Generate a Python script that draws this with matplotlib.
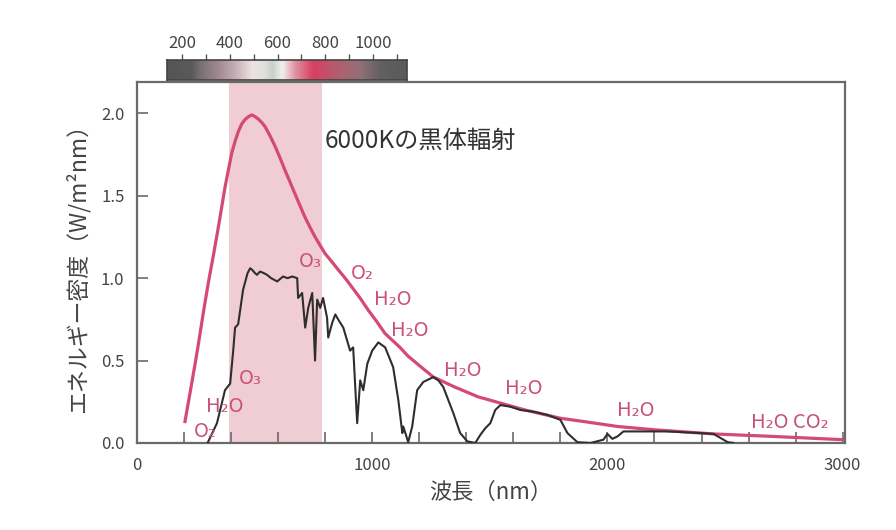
import numpy as np
import matplotlib
matplotlib.use('Agg')
import matplotlib.pyplot as plt
from matplotlib.colors import LinearSegmentedColormap
from matplotlib.ticker import MultipleLocator

plt.rcParams['font.family'] = ['Noto Sans CJK JP', 'DejaVu Sans']

# 6000K black body curve
bb_nm = [204, 225, 247, 261, 282, 303, 325, 346, 360, 374, 389, 403, 417, 431, 445, 459,
         474, 488, 502, 516, 530, 544, 565, 587, 608, 629, 650, 672, 693, 714, 735, 757,
         778, 799, 828, 856, 885, 913, 948, 983, 1020, 1054, 1118, 1150, 1200, 1260,
         1350, 1450, 1550, 1650, 1800, 1900, 2043, 2200, 2450, 2700, 3000]
bb_val = [0.13, 0.30, 0.48, 0.60, 0.79, 0.97, 1.14, 1.31, 1.43, 1.55, 1.66, 1.76, 1.83,
          1.89, 1.935, 1.962, 1.98, 1.99, 1.98, 1.965, 1.945, 1.92, 1.865, 1.80, 1.73,
          1.655, 1.585, 1.51, 1.44, 1.37, 1.31, 1.25, 1.20, 1.15, 1.10, 1.05, 1.00, 0.947,
          0.88, 0.806, 0.735, 0.665, 0.58, 0.53, 0.47, 0.40, 0.34, 0.28, 0.24, 0.20, 0.15,
          0.13, 0.10, 0.08, 0.055, 0.04, 0.02]

# solar spectrum at ground level
sun_nm = [300, 340, 374, 396, 409, 417, 430, 451, 470, 481, 490, 502, 510, 523, 540,
          553, 570, 596, 621, 640, 660, 681, 685, 702, 715, 728, 745, 757, 766, 779,
          791, 808, 813, 830, 843, 855, 877, 906, 919, 936, 949, 962, 979, 1000, 1026,
          1055, 1089, 1111, 1128, 1132, 1153, 1170, 1191, 1217, 1260, 1281, 1302, 1345,
          1374, 1404, 1438, 1460, 1481, 1502, 1523, 1545, 1587, 1630, 1685, 1745, 1800,
          1830, 1872, 1928, 1983, 2000, 2021, 2043, 2068, 2111, 2170, 2255, 2396, 2451,
          2511, 2536]
sun_val = [0.0, 0.12, 0.32, 0.36, 0.56, 0.70, 0.72, 0.93, 1.03, 1.06, 1.05, 1.03, 1.02,
           1.04, 1.03, 1.02, 1.00, 0.98, 1.01, 1.00, 1.01, 1.00, 0.88, 0.91, 0.70, 0.82,
           0.91, 0.50, 0.87, 0.82, 0.88, 0.76, 0.64, 0.73, 0.78, 0.75, 0.70, 0.56, 0.58,
           0.12, 0.38, 0.32, 0.48, 0.56, 0.61, 0.58, 0.46, 0.26, 0.06, 0.10, 0.005, 0.10,
           0.32, 0.37, 0.40, 0.38, 0.34, 0.18, 0.06, 0.01, 0.0, 0.05, 0.09, 0.12, 0.20,
           0.23, 0.22, 0.20, 0.19, 0.17, 0.14, 0.06, 0.005, 0.0, 0.02, 0.055, 0.025, 0.04,
           0.07, 0.07, 0.07, 0.07, 0.06, 0.055, 0.005, 0.0]

# absorption labels
absorb_labels = ['O₂', 'H₂O', 'O₃', 'O₃', 'O₂', 'H₂O', 'H₂O', 'H₂O', 'H₂O', 'H₂O', 'H₂O CO₂']
absorb_nm = [289, 374, 480, 735, 960, 1088, 1160, 1386, 1645, 2121, 2775]
absorb_val = [0.067, 0.22, 0.39, 1.10, 1.03, 0.87, 0.685, 0.44, 0.33, 0.20, 0.127]

visible_band = (390, 786)

# colour strip along the top (wavelength -> colour)
strip_nm = [137, 240, 280, 350, 425, 495, 540, 580, 620, 675, 750, 860, 950, 1030, 1142]
strip_colors = ['#555555', '#5a5a5a', '#7a7275', '#a08890', '#c8b0b8', '#ece4e4',
                '#e2e0de', '#c8d2c8', '#f2f0f0', '#e090a0', '#d84060', '#b06070',
                '#907078', '#626062', '#5a5a5a']

pink = '#d44a72'
label_pink = '#c9507a'
frame = '#6a6a6a'

fig = plt.figure(figsize=(8.96, 5.30), dpi=100)
ax = fig.add_axes([0.1529, 0.1642, 0.7902, 0.6811])

ax.axvspan(*visible_band, color='#f0ccd5', lw=0, zorder=0)
ax.plot(bb_nm, bb_val, color=pink, lw=2.3, zorder=2, solid_joinstyle='round')
ax.plot(sun_nm, sun_val, color='#2e2e2e', lw=1.5, zorder=3)

for lab, x, y in zip(absorb_labels, absorb_nm, absorb_val):
    ax.text(x, y, lab, color=label_pink, fontsize=14.5, ha='center', va='center', zorder=4)

ax.text(1205, 1.836, '6000Kの黒体輻射', color='#333333', fontsize=17.5,
        ha='center', va='center')

ax.set_xlim(0, 3010)
ax.set_ylim(0, 2.19)
ax.xaxis.set_major_locator(MultipleLocator(1000))
ax.xaxis.set_minor_locator(MultipleLocator(200))
ax.yaxis.set_major_locator(MultipleLocator(0.5))
ax.yaxis.set_major_formatter(plt.FormatStrFormatter('%.1f'))
ax.tick_params(axis='both', which='both', direction='in', length=8, width=1.2,
               color=frame, labelcolor='#444444', labelsize=12)
ax.tick_params(axis='x', pad=10)
ax.tick_params(axis='y', pad=9)
for s in ax.spines.values():
    s.set_color(frame)
    s.set_linewidth(1.6)

ax.set_xlabel('波長（nm）', fontsize=16, color='#444444', labelpad=5)
ax.set_ylabel('エネルギー密度（W/m²nm）', fontsize=16.5, color='#444444', labelpad=8)

# colour strip
cax = fig.add_axes([0.1864, 0.849, 0.2678, 0.0377])
cmap = LinearSegmentedColormap.from_list(
    'strip', [((n - strip_nm[0]) / (strip_nm[-1] - strip_nm[0]), c)
              for n, c in zip(strip_nm, strip_colors)])
cax.imshow(np.linspace(0, 1, 512).reshape(1, -1), cmap=cmap, aspect='auto',
           extent=[strip_nm[0], strip_nm[-1], 0, 1])
cax.set_xlim(strip_nm[0], strip_nm[-1])
cax.set_yticks([])
cax.xaxis.tick_top()
cax.set_xticks([200, 400, 600, 800, 1000])
cax.set_xticks(range(200, 1101, 100), minor=True)
cax.tick_params(axis='x', which='both', direction='out', length=4, width=1,
                color='#555555', labelcolor='#444444', labelsize=12, pad=2)
for s in cax.spines.values():
    s.set_color('#444444')
    s.set_linewidth(1.2)

fig.savefig('out.png', dpi=100)
